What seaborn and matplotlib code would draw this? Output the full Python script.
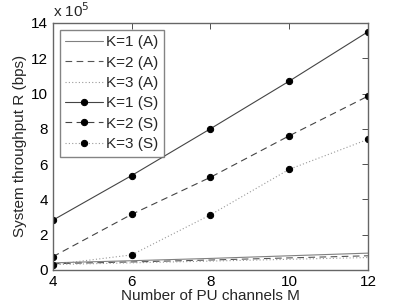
import matplotlib
matplotlib.use("Agg")
import matplotlib.pyplot as plt
import seaborn as sns
import pandas as pd
import numpy as np

M = [4, 6, 8, 10, 12]
k1_A = [0.40, 0.52, 0.65, 0.80, 0.95]
k2_A = [0.35, 0.45, 0.56, 0.68, 0.80]
k3_A = [0.30, 0.40, 0.50, 0.60, 0.70]
k1_S = [2.82, 5.35, 8.00, 10.70, 13.50]
k2_S = [0.75, 3.15, 5.25, 7.60, 9.85]
k3_S = [0.30, 0.85, 3.12, 5.70, 7.40]

sns.set_style("white")
plt.rcParams['font.family'] = ['Liberation Sans', 'DejaVu Sans']

fig = plt.figure(figsize=(4.07, 3.06), dpi=100)
ax = fig.add_axes([0.13, 0.118, 0.774, 0.807])

series = [
    (k1_A, '-', None, 'K=1 (A)', '#808080'),
    (k2_A, (0, (6, 4)), None, 'K=2 (A)', '#555555'),
    (k3_A, (0, (1, 2)), None, 'K=3 (A)', '#999999'),
    (k1_S, '-', 'o', 'K=1 (S)', '#444444'),
    (k2_S, (0, (6, 4)), 'o', 'K=2 (S)', '#444444'),
    (k3_S, (0, (1, 2)), 'o', 'K=3 (S)', '#999999'),
]
for vals, ls, mk, lab, c in series:
    df = pd.DataFrame({'M': M, 'R': vals})
    sns.lineplot(data=df, x='M', y='R', ax=ax, color=c, linestyle=ls, linewidth=0.8,
                 marker=mk, markersize=4.5, markerfacecolor='black', markeredgecolor='black',
                 label=lab)

ax.set_xlim(4, 12)
ax.set_ylim(0, 14)
ax.set_xticks([4, 6, 8, 10, 12])
ax.set_yticks([0, 2, 4, 6, 8, 10, 12, 14])
ax.tick_params(direction='in', top=True, right=True, length=4, labelsize=11, colors='#333333', labelcolor='black', width=0.6)
for s in ax.spines.values():
    s.set_color('#666666')
    s.set_linewidth(1.0)
ax.set_xlabel('Number of PU channels M', fontsize=11, labelpad=0)
ax.set_ylabel('System throughput R (bps)', fontsize=11)
ax.yaxis.set_label_coords(-0.082, 0.5)
ax.text(0.0, 1.01, r'x 10$^5$', transform=ax.transAxes, fontsize=11, va='bottom', ha='left')

leg = ax.legend(loc='upper left', fontsize=11, frameon=True, fancybox=False,
                edgecolor='#666666', handlelength=2.5, handletextpad=0.2,
                borderpad=0.35, labelspacing=0.42, borderaxespad=0.45)
leg.get_frame().set_linewidth(1.0)

fig.savefig('out.png', dpi=100)
